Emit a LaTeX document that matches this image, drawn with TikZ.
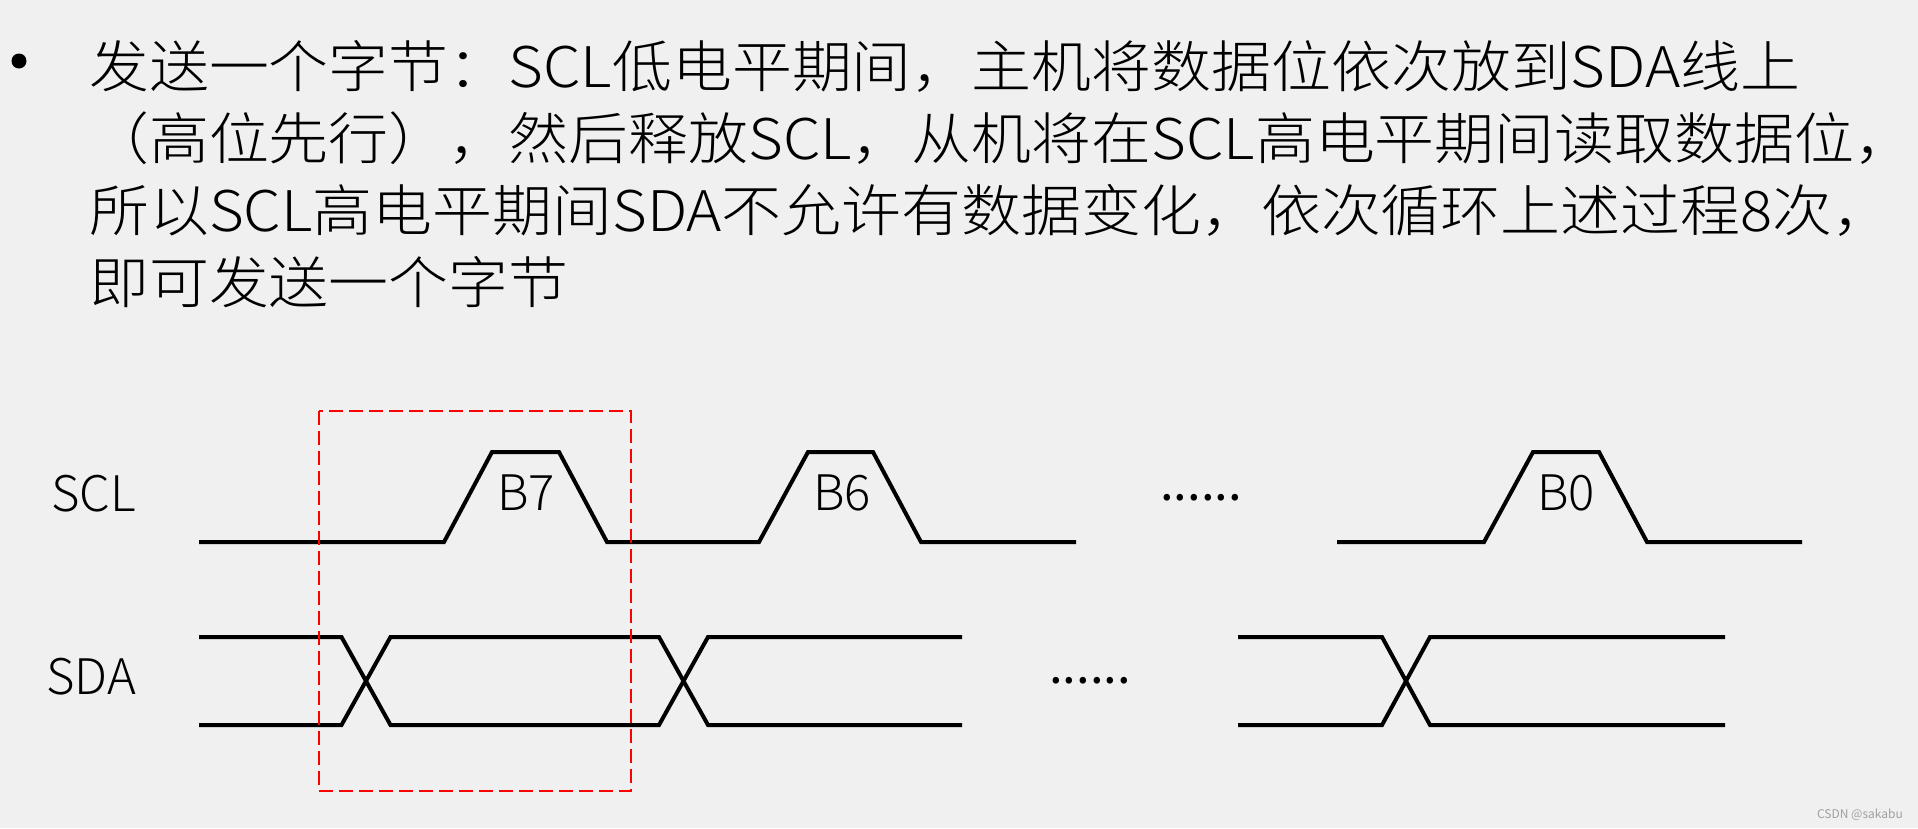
\documentclass[tikz,border=0pt]{standalone}
\usepackage{fontspec}
\setmainfont{Noto Sans CJK SC}
\newfontfamily\titlefont[FakeStretch=1.07]{Noto Sans CJK SC Light}
\newfontfamily\lblfont{Noto Sans CJK SC Light}
\definecolor{bg}{HTML}{F0F0F0}
\definecolor{boxred}{HTML}{FF0000}
\definecolor{wmgray}{HTML}{A0A0A0}
\begin{document}
\begin{tikzpicture}[x=1pt,y=-1pt,
  sig/.style={line width=4pt, draw=black},
  titleline/.style={font=\titlefont\fontsize{56}{60}\selectfont, inner sep=0pt, anchor=base west},
  lbl/.style={font=\lblfont\fontsize{49}{50}\selectfont, inner sep=0pt, anchor=base},
  sidelbl/.style={font=\lblfont\fontsize{49}{50}\selectfont, inner sep=0pt, anchor=base west},
  dots/.style={font=\fontsize{49}{50}\selectfont, inner sep=0pt, anchor=base west},
  hlbox/.style={draw=boxred, line width=2.2pt, dash pattern=on 14pt off 6pt}]
\fill[bg] (0,0) rectangle (1918,828);
\useasboundingbox (0,0) rectangle (1918,828);
% bullet and title
\node[circle, fill=black, inner sep=0pt, minimum size=15pt] (bullet) at (19,61) {};
\node[titleline] (t1) at (89,87) {发送一个字节：SCL低电平期间，主机将数据位依次放到SDA线上};
\node[titleline] (t2) at (89,159) {（高位先行），然后释放SCL，从机将在SCL高电平期间读取数据位，};
\node[titleline] (t3) at (89,231) {所以SCL高电平期间SDA不允许有数据变化，依次循环上述过程8次，};
\node[titleline] (t4) at (89,303) {即可发送一个字节};
% side labels
\node[sidelbl] (scl) at (51,511) {SCL};
\node[sidelbl] (sda) at (46,694) {SDA};
% SCL waveform
\draw[sig] (199,542) -- (444,542) -- (492,452) -- (559,452) -- (607,542)
  -- (759,542) -- (808,452) -- (873,452) -- (921,542) -- (1076,542);
\draw[sig] (1337,542) -- (1484,542) -- (1533,452) -- (1599,452) -- (1647,542) -- (1802,542);
\node[lbl] (b7) at (526,510) {B7};
\node[lbl] (b6) at (842,510) {B6};
\node[lbl] (b0) at (1566,510) {B0};
\node[dots] (sclDots) at (1160,500) {......};
% SDA waveform
\draw[sig] (199,637) -- (341.5,637) -- (390.5,725) -- (659,725) -- (708,637) -- (962,637);
\draw[sig] (199,725) -- (341.5,725) -- (390.5,637) -- (659,637) -- (708,725) -- (962,725);
\draw[sig] (1238,637) -- (1382,637) -- (1430,725) -- (1725,725);
\draw[sig] (1238,725) -- (1382,725) -- (1430,637) -- (1725,637);
\node[dots] (sdaDots) at (1049,683) {......};
% highlight box
\draw[hlbox] (319,411) rectangle (631,791);
% watermark
\node[font=\fontsize{12}{12}\selectfont, text=wmgray, inner sep=0pt, anchor=base east] (wm) at (1903,818) {CSDN @sakabu};
\end{tikzpicture}
\end{document}
